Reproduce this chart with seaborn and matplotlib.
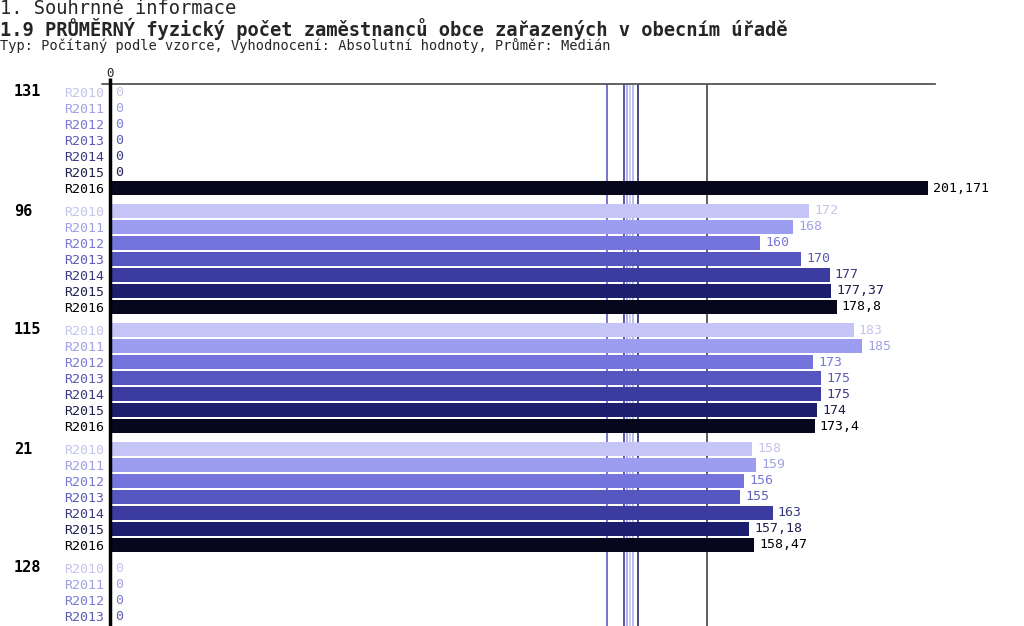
import pandas as pd
import matplotlib
matplotlib.use('Agg')
import matplotlib.pyplot as plt
import seaborn as sns

# Data
roky = ['R2010', 'R2011', 'R2012', 'R2013', 'R2014', 'R2015', 'R2016']
skupiny = ['131', '96', '115', '21', '128']
hodnoty_131 = [0, 0, 0, 0, 0, 0, 201.171]
hodnoty_96 = [172, 168, 160, 170, 177, 177.37, 178.8]
hodnoty_115 = [183, 185, 173, 175, 175, 174, 173.4]
hodnoty_21 = [158, 159, 156, 155, 163, 157.18, 158.47]
hodnoty_128 = [0, 0, 0, 0]  # only these rows are visible
# median reference lines (one per year)
mediany = [127.9, 127.2, 122.3, 128.7, 126.4, 129.9, 146.9]

barvy = ['#c4c4f6', '#9c9cf0', '#7474dc', '#5656c0', '#3c3ca0', '#1e1e6e', '#06061c']
barvy_median = ['#c8c8f4', '#a8a8ec', '#6a6ac8', '#b4b4ec', '#4a4a9a', '#3a3a7a', '#505050']
barvy_text = ['#c4c4f0', '#a0a0e4', '#7a7ad4', '#5c5cb4', '#3a3a80', '#202050', '#000000']
paleta = dict(zip(roky, barvy))
paleta_text = dict(zip(roky, barvy_text))

# Build table: row position = group offset + year index
skok = 7.4375
radky = []
for g, vals in enumerate([hodnoty_131, hodnoty_96, hodnoty_115, hodnoty_21, hodnoty_128]):
    for i, v in enumerate(vals):
        radky.append({'skupina': skupiny[g], 'rok': roky[i], 'pos': g * skok + i, 'hodnota': v})
df = pd.DataFrame(radky)

sns.set_style('white')
plt.rcParams['font.family'] = ['DejaVu Sans Mono']

fig = plt.figure(figsize=(10.24, 6.26), dpi=100)
ax = fig.add_axes([110 / 1024, 0, 825 / 1024, 542 / 626])

# median lines first, behind the bars
for m, c in zip(mediany, barvy_median):
    ax.axvline(m, color=c, lw=1.3, zorder=-5)

sns.barplot(data=df, x='hodnota', y='pos', hue='rok', palette=paleta, orient='h',
            native_scale=True, dodge=False, width=0.88, errorbar=None, legend=False,
            linewidth=0, saturation=1, ax=ax)
for p in ax.patches:
    p.set_zorder(3)

ax.set_xlim(0, 825 / 4.065)
ax.set_ylim((626 - 92) / 16, -0.5)

# value labels
for _, r in df.iterrows():
    txt = f"{r['hodnota']:g}".replace('.', ',')
    ax.annotate(txt, (r['hodnota'], r['pos']), xytext=(5, 0), textcoords='offset pixels',
                va='center', ha='left', fontsize=9.5, color=paleta_text[r['rok']], zorder=4)

# year labels on the y axis
ax.set_yticks(df['pos'])
ax.set_yticklabels(df['rok'], fontsize=9.5)
for lab, rok in zip(ax.get_yticklabels(), df['rok']):
    lab.set_color(paleta_text[rok])
ax.tick_params(axis='y', length=0, pad=4)

# group labels
for g, s in enumerate(skupiny):
    ax.text(-96 / 825, g * skok, s, transform=ax.get_yaxis_transform(), ha='left',
            va='center', fontsize=11, fontweight='bold', color='black')

# top axis with the 0 tick
ax.xaxis.tick_top()
ax.set_xticks([0])
ax.set_xticklabels(['0'], fontsize=9)
ax.tick_params(axis='x', length=0, pad=3)
ax.set_xlabel('')
ax.set_ylabel('')
for s in ['right', 'bottom', 'left']:
    ax.spines[s].set_visible(False)
ax.spines['top'].set_color('#555555')
ax.spines['top'].set_linewidth(1.3)
ax.plot([-8 / 825, 0], [1, 1], transform=ax.transAxes, color='#555555', lw=1.3, clip_on=False)
ax.plot([0, 0], [0, 1 + 6 / 542], transform=ax.transAxes, color='black', lw=2.5,
        clip_on=False, zorder=5, solid_capstyle='butt')

# header texts
fig.text(0, 1 - 8 / 626, '1. Souhrnné informace', fontsize=13.5, va='center', ha='left')
fig.text(0, 1 - 28.5 / 626, '1.9 PRŮMĚRNÝ fyzický počet zaměstnanců obce zařazených v obecním úřadě',
         fontsize=13.5, fontweight='bold', va='center', ha='left')
fig.text(0, 1 - 46 / 626, 'Typ: Počítaný podle vzorce, Vyhodnocení: Absolutní hodnoty, Průměr: Medián',
         fontsize=9.8, va='center', ha='left')

fig.savefig('out.png', dpi=100)
